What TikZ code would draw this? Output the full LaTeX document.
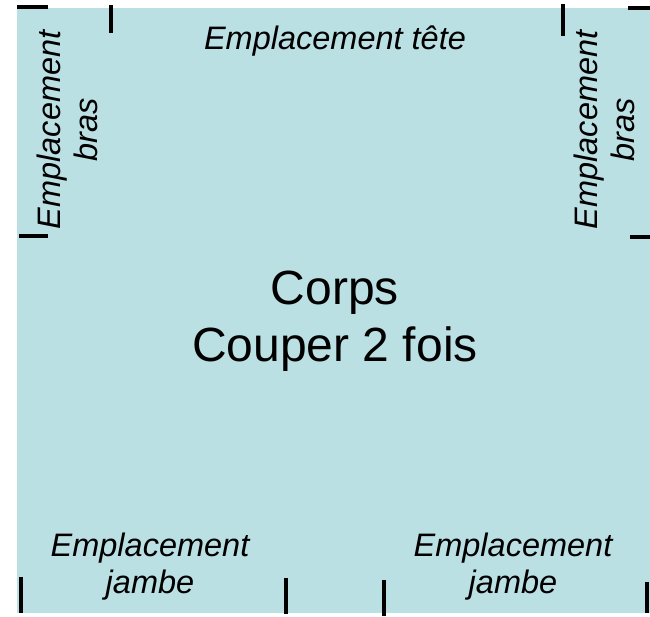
\documentclass[tikz,border=0pt]{standalone}
\usepackage{fontspec}
\setmainfont{Liberation Sans}
\definecolor{patron}{RGB}{186,224,228}

\begin{document}
\begin{tikzpicture}[x=1pt,y=-1pt,repere/.style={line width=3.5pt,black},label text/.style={font=\itshape\fontsize{32.5}{37}\selectfont,align=center,inner sep=0pt}]

                \useasboundingbox (0,0) rectangle (650,616);
                \fill[patron] (17,8) rectangle (650,613);

                \node[label text] (tete) at (335,41) {Emplacement tête};
                \node[label text, rotate=90] (brasg) at (67,130) {Emplacement\\bras};
                \node[label text, rotate=90] (brasd) at (604,130) {Emplacement\\bras};
                \node[label text] (jambeg) at (150,567) {Emplacement\\jambe};
                \node[label text] (jambed) at (513,567) {Emplacement\\jambe};
                \node[font=\fontsize{48}{57}\selectfont, align=center, inner sep=0pt] (corps) at (335,321) {Corps\\Couper 2 fois};

                \draw[repere] (17,7) -- (48,7);
                \draw[repere] (111,5) -- (111,33);
                \draw[repere] (563,4) -- (563,36);
                \draw[repere] (628,8) -- (650,8);
                \draw[repere] (19,236) -- (48,236);
                \draw[repere] (630,237) -- (650,237);
                \draw[repere] (21,577) -- (21,613);
                \draw[repere] (286,578) -- (286,614);
                \draw[repere] (384,580) -- (384,616);
                \draw[repere] (647,582) -- (647,613);

                ;
            \end{tikzpicture}
\end{document}
